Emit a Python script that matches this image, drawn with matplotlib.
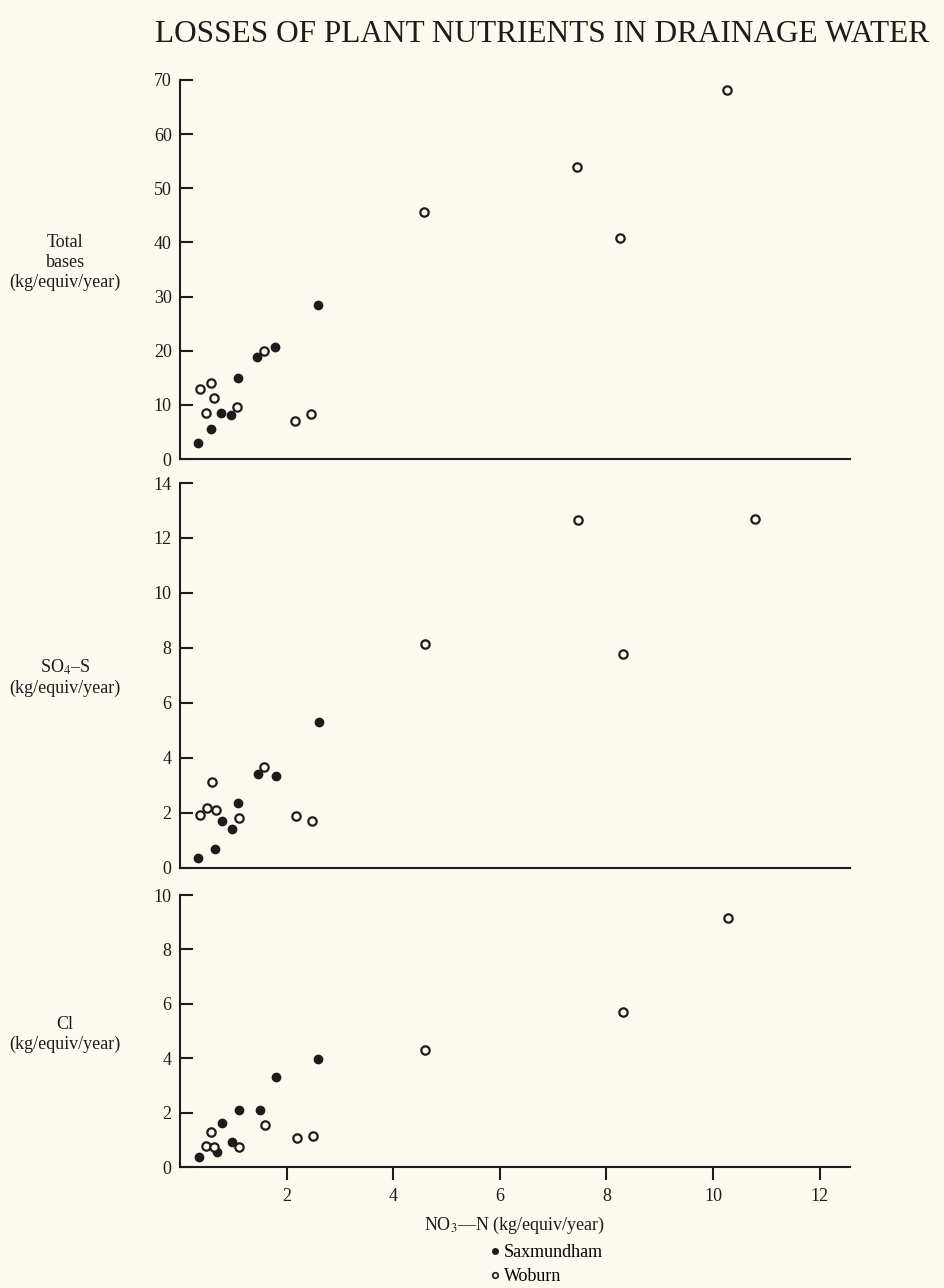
import matplotlib
matplotlib.use('Agg')
import matplotlib.pyplot as plt
from matplotlib.lines import Line2D

plt.rcParams['font.family'] = ['Liberation Serif', 'DejaVu Serif']
plt.rcParams['mathtext.fontset'] = 'stix'

# Datos (NO3-N en eje x)
bases_sax_x = [0.33, 0.59, 0.76, 0.95, 1.08, 1.44, 1.79, 2.58]
bases_sax_y = [3.0, 5.5, 8.5, 8.2, 14.9, 18.8, 20.7, 28.5]
bases_wob_x = [0.38, 0.48, 0.58, 0.63, 1.06, 1.58, 2.16, 2.45, 4.57, 7.45, 8.26, 10.27]
bases_wob_y = [12.9, 8.5, 14.0, 11.3, 9.6, 19.9, 7.1, 8.4, 45.6, 54.0, 40.9, 68.1]

so4_sax_x = [0.34, 0.65, 0.78, 0.97, 1.08, 1.46, 1.81, 2.60]
so4_sax_y = [0.37, 0.70, 1.71, 1.42, 2.37, 3.41, 3.36, 5.30]
so4_wob_x = [0.38, 0.51, 0.60, 0.67, 1.11, 1.58, 2.17, 2.48, 4.60, 7.47, 8.31, 10.79]
so4_wob_y = [1.94, 2.17, 3.14, 2.10, 1.82, 3.68, 1.89, 1.72, 8.13, 12.64, 7.77, 12.69]

cl_sax_x = [0.36, 0.69, 0.79, 0.97, 1.10, 1.50, 1.80, 2.59]
cl_sax_y = [0.36, 0.55, 1.62, 0.91, 2.11, 2.10, 3.32, 3.98]
cl_wob_x = [0.48, 0.58, 0.64, 1.11, 1.59, 2.19, 2.50, 4.60, 8.31, 10.28]
cl_wob_y = [0.78, 1.29, 0.72, 0.72, 1.54, 1.07, 1.13, 4.31, 5.69, 9.14]

x_ticks = [2, 4, 6, 8, 10, 12]
bases_ticks = [0, 10, 20, 30, 40, 50, 60, 70]
so4_ticks = [0, 2, 4, 6, 8, 10, 12, 14]
cl_ticks = [0, 2, 4, 6, 8, 10]

bg = '#fcf9ef'
ink = '#1c1c1c'

fig = plt.figure(figsize=(9.44, 12.88), dpi=100, facecolor=bg)

left, width = 0.1907, 0.7097
panels = [
    ([left, 0.6436, width, 0.2943], bases_sax_x, bases_sax_y, bases_wob_x, bases_wob_y,
     bases_ticks, 'Total\nbases\n(kg/equiv/year)', 0.796),
    ([left, 0.3261, width, 0.2989], so4_sax_x, so4_sax_y, so4_wob_x, so4_wob_y,
     so4_ticks, 'SO$_4$–S\n(kg/equiv/year)', 0.474),
    ([left, 0.0939, width, 0.2112], cl_sax_x, cl_sax_y, cl_wob_x, cl_wob_y,
     cl_ticks, 'Cl\n(kg/equiv/year)', 0.197),
]

axes = []
for rect, sx, sy, wx, wy, yt, lab, ly in panels:
    ax = fig.add_axes(rect)
    ax.set_facecolor(bg)
    ax.plot(sx, sy, 'o', color=ink, markersize=6, clip_on=False)
    ax.plot(wx, wy, 'o', markerfacecolor=bg, markeredgecolor=ink,
            markeredgewidth=1.6, markersize=6, clip_on=False)
    ax.set_xlim(0, 12.57)
    ax.set_ylim(yt[0], yt[-1])
    ax.set_yticks(yt)
    for s in ['top', 'right']:
        ax.spines[s].set_visible(False)
    for s in ['left', 'bottom']:
        ax.spines[s].set_linewidth(1.5)
        ax.spines[s].set_color(ink)
    ax.tick_params(axis='y', direction='in', length=9, width=1.5, pad=6,
                   labelsize=13, colors=ink)
    ax.tick_params(axis='x', bottom=False, labelbottom=False)
    fig.text(0.069, ly, lab, ha='center', va='center', fontsize=13,
             linespacing=1.2, color=ink)
    axes.append(ax)

ax = axes[-1]
ax.set_xticks(x_ticks)
ax.tick_params(axis='x', bottom=True, labelbottom=True, direction='out',
               length=9, width=1.5, pad=6, labelsize=13, colors=ink)
ax.set_xlabel('NO$_3$—N (kg/equiv/year)', fontsize=13, labelpad=7, color=ink)

fig.text(0.574, 0.973, 'LOSSES OF PLANT NUTRIENTS IN DRAINAGE WATER',
         ha='center', va='center', fontsize=22.5, color=ink)

handles = [
    Line2D([], [], marker='o', linestyle='none', color=ink, markersize=4),
    Line2D([], [], marker='o', linestyle='none', markerfacecolor=bg,
           markeredgecolor=ink, markeredgewidth=1.2, markersize=4),
]
fig.legend(handles, ['Saxmundham', 'Woburn'], loc='upper left',
           bbox_to_anchor=(0.52, 0.034), frameon=False, fontsize=13,
           handlelength=0.5, handletextpad=0.2, labelspacing=0.4,
           borderpad=0, borderaxespad=0)

plt.savefig('out.png', dpi=100, facecolor=bg)
